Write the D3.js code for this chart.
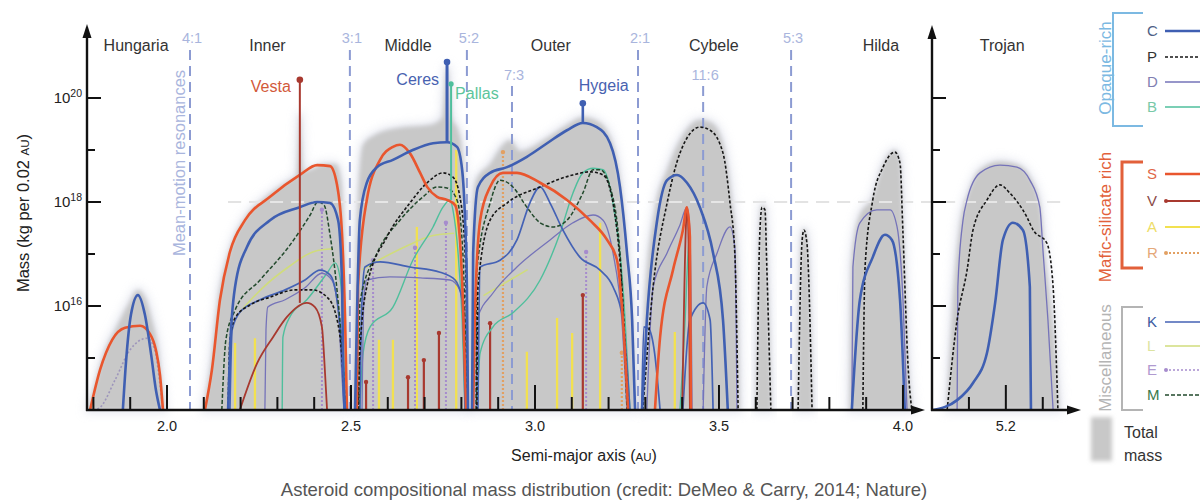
<!DOCTYPE html>
<html><head><meta charset="utf-8">
<script src="https://cdn.jsdelivr.net/npm/d3@7"></script>
<style>
html,body{margin:0;padding:0;background:#fff;}
svg{display:block;font-family:"Liberation Sans",Arial,Helvetica,sans-serif;}
</style></head><body>
<svg id="chart" width="1200" height="503"></svg>
<script>
// Mass distribution of asteroid taxonomic classes vs semi-major axis.
// Each segment: [semi-major axis (AU), log10 mass (kg per 0.02 AU)].

const regionNames   = ['Hungaria','Inner','Middle','Outer','Cybele','Hilda','Trojan'];
const regionCentres = [1.916, 2.273, 2.655, 3.043, 3.486, 3.940, 5.19];

const resonanceNames = ['4:1','3:1','5:2','7:3','2:1','11:6','5:3'];
const resonanceAU    = [2.0625, 2.497, 2.815, 2.9375, 3.280, 3.457, 3.696];

const mainTicks   = [1.8,1.9,2.0,2.1,2.2,2.3,2.4,2.5,2.6,2.7,2.8,2.9,3.0,3.1,3.2,3.3,3.4,3.5,3.6,3.7,3.8,3.9,4.0];
const mainLabels  = [2.0,2.5,3.0,3.5,4.0];
const trojanTicks = [5.1,5.2,5.3];
const trojanLabels= [5.2];
const yMajor = [16,18,20];
const yMinor = [15,17,19];

// total mass envelope
const totalMass = [
 [[1.785,14],[1.804,14.48],[1.832,15.15],[1.859,15.54],[1.894,16.02],[1.921,16.31],[1.943,16.12],[1.959,15.73],[1.976,15.15],[1.986,14.48],[1.995,14]],
 [[2.098,14],[2.117,14.77],[2.139,16.12],[2.171,17.08],[2.212,17.69],[2.266,18.08],[2.334,18.42],[2.352,18.5],[2.361,19.7],[2.370,18.58],[2.389,18.62],[2.429,18.73],[2.459,18.73],[2.473,18.42],[2.481,17.27],[2.486,15.54],[2.492,14]],
 [[2.505,14],[2.511,16.12],[2.519,18.04],[2.533,19.10],[2.565,19.29],[2.625,19.42],[2.715,19.48],[2.748,19.62],[2.761,20.6],[2.774,19.62],[2.790,19.4],[2.800,19.1],[2.807,18.42],[2.813,16.88],[2.821,14]],
 [[2.823,14],[2.826,17.08],[2.840,18.42],[2.878,18.73],[2.913,19.10],[2.932,19.19],[2.959,18.98],[3.033,19.23],[3.087,19.48],[3.130,19.63],[3.168,19.56],[3.204,19.25],[3.231,18.42],[3.250,17.08],[3.264,15.73],[3.274,14]],
 [[3.288,14],[3.299,16.12],[3.326,17.85],[3.359,18.62],[3.394,19.19],[3.448,19.58],[3.481,19.52],[3.514,19.04],[3.535,18.04],[3.549,16.88],[3.557,14]],
 [[3.600,14],[3.610,17.4],[3.617,17.95],[3.625,17.9],[3.632,16.7],[3.643,14]],
 [[3.712,14],[3.724,17.3],[3.731,17.5],[3.740,17.25],[3.755,14]],
 [[3.855,14],[3.860,16.8],[3.880,17.7],[3.918,18.1],[3.946,18.72],[3.978,19.0],[3.992,18.8],[4.000,17.5],[4.014,14.9],[4.026,14]],
 [[5.040,14],[5.060,16.4],[5.075,17.5],[5.100,18.2],[5.130,18.62],[5.184,18.78],[5.230,18.72],[5.265,18.48],[5.292,17.95],[5.305,17.0],[5.330,15.5],[5.345,14]]
];

const seriesC = [
 [[1.880,14],[1.889,14.96],[1.902,15.83],[1.921,16.21],[1.940,15.83],[1.957,15.06],[1.970,14.38],[1.981,14]],
 [[2.166,14],[2.171,15.10],[2.185,16.37],[2.217,17.13],[2.280,17.65],[2.361,17.90],[2.408,18.0],[2.443,17.98],[2.465,17.65],[2.476,16.37],[2.478,15.10],[2.484,14]],
 [[2.511,14],[2.516,15.73],[2.524,17.65],[2.543,18.37],[2.571,18.67],[2.614,18.81],[2.668,19.0],[2.723,19.13],[2.761,19.15],[2.788,19.06],[2.802,18.62],[2.810,17.65],[2.815,16.37],[2.818,14]],
 [[2.829,14],[2.832,17.02],[2.845,18.29],[2.878,18.56],[2.924,18.67],[2.978,18.87],[3.033,19.13],[3.087,19.38],[3.130,19.52],[3.168,19.44],[3.204,19.13],[3.231,18.29],[3.250,17.02],[3.264,15.73],[3.272,14]],
 [[3.291,14],[3.304,15.73],[3.332,17.65],[3.359,18.42],[3.386,18.52],[3.413,18.37],[3.448,17.90],[3.484,17.02],[3.511,15.73],[3.524,14]],
 [[3.861,14],[3.883,16.12],[3.918,16.94],[3.951,17.37],[3.970,17.27],[3.992,16.12],[4.005,14]],
 [[5.003,14],[5.068,14.19],[5.111,14.52],[5.149,15.10],[5.171,16.06],[5.192,17.27],[5.219,17.60],[5.246,17.46],[5.265,16.37],[5.268,14]]
];

const seriesP = [
 [[2.166,14],[2.171,15.35],[2.185,15.77],[2.226,16.02],[2.280,16.17],[2.348,16.31],[2.394,16.31],[2.435,16.17],[2.459,15.83],[2.476,14.96],[2.484,14]],
 [[2.519,14],[2.524,15.10],[2.543,16.37],[2.598,17.33],[2.660,17.98],[2.707,18.37],[2.750,18.56],[2.777,18.48],[2.796,18.10],[2.810,17.02],[2.818,14]],
 [[2.842,14],[2.845,16.37],[2.878,17.65],[2.924,17.98],[3.014,18.29],[3.103,18.52],[3.149,18.58],[3.185,18.52],[3.212,17.98],[3.236,16.37],[3.253,14]],
 [[3.293,14],[3.321,16.37],[3.359,17.98],[3.394,18.94],[3.448,19.44],[3.476,19.38],[3.511,18.94],[3.530,17.98],[3.543,17.02],[3.552,14]],
 [[3.603,14],[3.611,17.40],[3.617,17.90],[3.625,17.85],[3.630,16.75],[3.641,14]],
 [[3.715,14],[3.726,17.27],[3.731,17.46],[3.739,17.21],[3.753,14]],
 [[3.891,14],[3.897,16.75],[3.918,18.04],[3.946,18.67],[3.978,18.96],[3.992,18.75],[4.000,17.40],[4.014,14.83],[4.024,14]],
 [[5.041,14],[5.068,15.73],[5.095,16.69],[5.111,17.46],[5.149,18.04],[5.184,18.33],[5.211,18.17],[5.257,17.71],[5.274,17.46],[5.311,17.21],[5.328,16.37],[5.341,14]]
];

const seriesD = [
 [[2.266,14],[2.269,15.54],[2.274,15.98],[2.321,16.12],[2.375,16.35],[2.421,16.63],[2.448,16.50],[2.465,15.92],[2.476,14.58],[2.481,14]],
 [[2.530,14],[2.535,16.12],[2.543,16.50],[2.606,16.56],[2.688,16.54],[2.769,16.50],[2.796,16.31],[2.810,15.73],[2.815,14]],
 [[2.840,14],[2.842,15.73],[2.886,16.25],[2.951,16.75],[3.041,17.27],[3.103,17.60],[3.158,17.75],[3.185,17.65],[3.212,17.02],[3.236,15.73],[3.250,14]],
 [[3.304,14],[3.321,16.37],[3.359,17.02],[3.394,17.56],[3.413,17.90],[3.421,17.46],[3.427,14]],
 [[3.457,14],[3.467,16.37],[3.495,17.02],[3.530,17.52],[3.543,17.13],[3.549,14]],
 [[3.861,14],[3.864,16.75],[3.883,17.60],[3.929,17.85],[3.965,17.85],[3.984,17.52],[4.000,16.12],[4.011,14]],
 [[5.068,14],[5.070,16.37],[5.084,17.65],[5.095,18.04],[5.130,18.56],[5.184,18.71],[5.230,18.67],[5.265,18.42],[5.292,17.90],[5.301,17.02],[5.314,15.73],[5.328,14]]
];

const seriesB = [
 [[2.313,14],[2.315,15.40],[2.334,15.79],[2.380,16.12],[2.435,16.63],[2.457,16.83],[2.470,16.56],[2.478,15.73],[2.484,14]],
 [[2.524,14],[2.533,15.10],[2.552,15.60],[2.614,15.98],[2.668,16.88],[2.723,17.52],[2.750,17.90],[2.769,18.04],[2.777,17.85],[2.791,17.02],[2.802,15.73],[2.810,14]],
 [[2.842,14],[2.851,15.10],[2.886,15.60],[2.940,15.87],[3.014,16.50],[3.068,17.40],[3.103,18.17],[3.130,18.56],[3.158,18.65],[3.185,18.62],[3.212,17.98],[3.239,16.37],[3.258,14]],
 [[3.394,14],[3.408,15.73],[3.416,17.02],[3.421,17.40],[3.424,14]]
];

const seriesS = [
 [[1.791,14],[1.818,14.77],[1.851,15.35],[1.886,15.58],[1.927,15.62],[1.954,15.46],[1.970,15.15],[1.981,14.67],[1.989,14]],
 [[2.103,14],[2.122,14.77],[2.144,16.12],[2.171,17.04],[2.212,17.65],[2.280,18.10],[2.361,18.52],[2.408,18.71],[2.443,18.69],[2.462,18.33],[2.476,17.33],[2.484,15.73],[2.489,14]],
 [[2.516,14],[2.519,16.37],[2.543,18.04],[2.579,18.81],[2.614,19.06],[2.633,19.10],[2.660,18.94],[2.688,18.56],[2.707,18.29],[2.734,18.10],[2.761,18.04],[2.783,17.94],[2.796,17.27],[2.804,16.12],[2.813,14]],
 [[2.832,14],[2.837,15.87],[2.851,17.65],[2.878,18.29],[2.913,18.56],[2.951,18.56],[3.014,18.37],[3.087,18.04],[3.149,17.65],[3.196,17.27],[3.223,16.88],[3.239,15.73],[3.253,14]],
 [[3.326,14],[3.340,15.40],[3.375,16.69],[3.402,17.46],[3.413,17.90],[3.421,17.33],[3.424,14]]
];

const seriesV = [
 [[2.198,14],[2.245,14.90],[2.288,15.40],[2.326,15.79],[2.380,16.06],[2.402,15.98],[2.421,15.60],[2.429,14.77],[2.435,14]],
 [[3.400,14],[3.405,16.0],[3.410,17.5],[3.414,17.85],[3.418,17.0],[3.421,14]]
];

const seriesK = [
 [[2.171,14],[2.177,15.54],[2.198,15.88],[2.253,16.12],[2.321,16.31],[2.375,16.50],[2.416,16.69],[2.443,16.60],[2.462,16.12],[2.476,14.96],[2.481,14]],
 [[2.524,14],[2.530,16.12],[2.538,16.75],[2.579,16.85],[2.660,16.75],[2.742,16.65],[2.783,16.50],[2.802,16.12],[2.810,14]],
 [[2.845,14],[2.851,16.75],[2.905,16.88],[2.951,17.27],[2.986,17.98],[3.014,18.29],[3.041,17.98],[3.076,17.46],[3.122,16.94],[3.177,16.69],[3.212,16.37],[3.239,15.73],[3.258,14]],
 [[3.290,14],[3.296,15.6],[3.310,15.55],[3.325,15.1],[3.340,14]],
 [[3.402,14],[3.421,15.73],[3.457,16.06],[3.476,15.73],[3.484,14]]
];

const seriesM = [
 [[2.149,14],[2.160,15.35],[2.185,15.92],[2.253,16.50],[2.334,17.17],[2.389,17.75],[2.410,18.0],[2.427,17.94],[2.443,17.37],[2.462,16.31],[2.478,14.96],[2.486,14]],
 [[2.521,14],[2.524,16.06],[2.571,17.02],[2.633,17.65],[2.696,18.10],[2.734,18.29],[2.761,18.27],[2.788,18.04],[2.804,17.02],[2.815,14]],
 [[2.840,14],[2.842,16.69],[2.878,17.98],[2.905,18.42],[2.940,18.29],[2.978,17.90],[3.014,17.60],[3.049,17.52],[3.087,17.65],[3.130,18.17],[3.158,18.62],[3.177,18.62],[3.204,18.29],[3.231,17.02],[3.250,14]]
];

const seriesE = [
 [[1.800,14],[1.818,14.05],[1.859,14.58],[1.899,15.15],[1.946,15.38],[1.967,15.15],[1.981,14.48],[1.989,14]]
];

const seriesL = [
 [[2.200,15.9],[2.260,16.35],[2.330,16.75],[2.400,17.05],[2.450,17.1]],
 [[2.530,16.7],[2.580,16.9],[2.650,17.15],[2.720,17.35],[2.780,17.4]],
 [[2.860,16.2],[2.920,16.45],[2.980,16.7]]
];

// single-bin spikes: [a, log10 mass at top]
const spikesA = [[2.185,15.29],[2.239,15.38],[2.576,15.35],[2.614,15.35],[2.679,17.52],[2.786,19.0],[2.978,15.12],[3.060,15.77],[3.101,15.48],[3.177,17.6],[3.380,15.5]];
const spikesV = [[2.541,14.54],[2.655,14.63],[2.698,14.96],[2.739,15.48],[2.878,15.67],[3.130,16.21]];
const spikesE = [[2.421,17.85],[2.560,16.88],[2.674,17.12],[2.758,17.6],[3.139,17.04]];
const spikesR = [[2.913,18.96],[3.236,15.10]];

// the four largest bodies
const bodyNames = ['Vesta','Ceres','Pallas','Hygeia'];
const bodyClass = ['V','C','B','C'];
const bodyAU    = [2.361, 2.761, 2.772, 3.130];
const bodyBase  = [16.06, 19.15, 18.04, 19.52];
const bodyTop   = [20.35, 20.69, 20.27, 19.90];

// ---------------------------------------------------------------
const svg = d3.select('#chart');
const xMain = d3.scaleLinear().domain([1.7826, 4.03]).range([87, 914]);
const xTroj = d3.scaleLinear().domain([5.0, 5.39]).range([932, 1076]);
const y = d3.scaleLog().domain([1e14, Math.pow(10, 21.4)]).range([410, 410 - 7.4 * 52]);
const xOf = a => a > 4.5 ? xTroj(a) : xMain(a);
const yOf = v => y(Math.pow(10, v));
const clipFor = seg => seg[0][0] > 4.5 ? 'url(#clipT)' : 'url(#clipM)';

const style = {
  C:{color:'#3f5fb2', width:2.6},
  P:{color:'#161616', width:1.6, dash:'3,2'},
  D:{color:'#7573b9', width:1.3},
  B:{color:'#4fbf9c', width:1.4},
  S:{color:'#e9562e', width:2.6},
  V:{color:'#a8392f', width:1.8},
  A:{color:'#f2e150', width:1.9},
  R:{color:'#e2a062', width:1.8, dash:'2,2'},
  K:{color:'#4462b5', width:1.7},
  L:{color:'#d0dc7c', width:1.6},
  E:{color:'#a68ccd', width:1.6, dash:'2,2'},
  M:{color:'#22492c', width:1.5, dash:'4,2'}
};

const defs = svg.append('defs');
defs.append('clipPath').attr('id','clipM').append('rect').attr('x',87).attr('y',0).attr('width',827).attr('height',410);
defs.append('clipPath').attr('id','clipT').append('rect').attr('x',932).attr('y',0).attr('width',144).attr('height',410);
const f1 = defs.append('filter').attr('id','soft').attr('x','-20%').attr('y','-20%').attr('width','140%').attr('height','140%');
f1.append('feGaussianBlur').attr('stdDeviation',2.2);
const f2 = defs.append('filter').attr('id','halo').attr('x','-30%').attr('y','-30%').attr('width','160%').attr('height','160%');
f2.append('feGaussianBlur').attr('stdDeviation',5);

const line = d3.line().x(d => xOf(d[0])).y(d => yOf(d[1])).curve(d3.curveMonotoneX);
const area = d3.area().x(d => xOf(d[0])).y0(410).y1(d => yOf(d[1])).curve(d3.curveMonotoneX);

// reference level 10^18 (under the total-mass shading)
const y18 = y(1e18);
svg.append('line').attr('x1', xMain(2.166)).attr('x2', xTroj(5.35)).attr('y1', y18).attr('y2', y18)
  .attr('stroke','#c2c2c2').attr('stroke-width',2).attr('stroke-dasharray','13,8');

// total mass shading
const gTot = svg.append('g');
gTot.selectAll('path.halo').data(totalMass).join('path').attr('class','halo')
  .attr('d', area).attr('fill','#cfd2e2').attr('stroke','#cfd2e2').attr('stroke-width',6)
  .attr('opacity',0.55).attr('filter','url(#halo)');
gTot.selectAll('path.fill').data(totalMass).join('path').attr('class','fill')
  .attr('d', area).attr('fill','#c8c8c8').attr('filter','url(#soft)').attr('clip-path', clipFor);

// the reference dashes show pale over the shading
svg.append('line').attr('x1', xMain(2.166)).attr('x2', xTroj(5.35)).attr('y1', y18).attr('y2', y18)
  .attr('stroke','#ffffff').attr('stroke-opacity',0.55).attr('stroke-width',2).attr('stroke-dasharray','13,8');

// mean-motion resonances
const gRes = svg.append('g');
resonanceNames.forEach((name, i) => {
  const low = (name === '7:3' || name === '11:6');
  const xr = xMain(resonanceAU[i]);
  gRes.append('line').attr('x1', xr).attr('x2', xr).attr('y1', low ? 86 : 50).attr('y2', 410)
    .attr('stroke','#8c9bd2').attr('stroke-width',2).attr('stroke-dasharray','10,6');
  gRes.append('text').attr('x', xr + 2).attr('y', low ? 80 : 43).attr('text-anchor','middle')
    .attr('font-size',14.5).attr('fill','#a9b5dd').text(name);
});
gRes.append('text').attr('transform', `translate(${xMain(resonanceAU[0]) - 5},163) rotate(-90)`)
  .attr('text-anchor','middle').attr('font-size',16.5).attr('fill','#a9b5dd').text('Mean-motion resonances');

// single-bin spikes
const gSp = svg.append('g').attr('clip-path','url(#clipM)');
function spikes(list, cls, dot) {
  const s = style[cls];
  list.forEach(([a, top]) => {
    gSp.append('line').attr('x1', xOf(a)).attr('x2', xOf(a)).attr('y1', 410).attr('y2', yOf(top))
      .attr('stroke', s.color).attr('stroke-width', s.width + 0.4).attr('stroke-dasharray', s.dash || null);
    if (dot) gSp.append('circle').attr('cx', xOf(a)).attr('cy', yOf(top)).attr('r', 2.2).attr('fill', s.color);
  });
}
spikes(spikesA, 'A', false);
spikes(spikesE, 'E', true);
spikes(spikesR, 'R', true);
spikes(spikesV, 'V', true);

// class curves
const gCurves = svg.append('g');
function curves(list, cls, colorOverride) {
  const s = style[cls];
  gCurves.append('g').selectAll('path').data(list).join('path')
    .attr('d', line).attr('fill','none').attr('clip-path', clipFor)
    .attr('stroke', colorOverride || s.color).attr('stroke-width', s.width)
    .attr('stroke-dasharray', s.dash || null).attr('stroke-linejoin','round');
}
curves(seriesL, 'L');
curves(seriesE, 'E', '#9d95bb');
curves(seriesB, 'B');
curves(seriesD, 'D');
curves(seriesK, 'K');
curves(seriesM, 'M');
curves(seriesP, 'P');
curves(seriesV, 'V');
curves(seriesS, 'S');
curves(seriesC, 'C');

// largest bodies
const bodyLabelColor = {Vesta:'#d2593a', Ceres:'#4862b0', Pallas:'#5cc59b', Hygeia:'#4862b0'};
const gBody = svg.append('g');
bodyNames.forEach((name, i) => {
  const s = style[bodyClass[i]];
  const bx = xMain(bodyAU[i]), by = yOf(bodyTop[i]);
  gBody.append('line').attr('x1', bx).attr('x2', bx).attr('y1', yOf(bodyBase[i])).attr('y2', by)
    .attr('stroke', s.color).attr('stroke-width', name === 'Ceres' ? 3 : (name === 'Hygeia' ? 2.6 : 2));
  gBody.append('circle').attr('cx', bx).attr('cy', by).attr('r', name === 'Pallas' ? 2.6 : 3.3).attr('fill', s.color);
  const t = gBody.append('text').attr('font-size',16).attr('fill', bodyLabelColor[name]).text(name);
  if (name === 'Vesta') t.attr('x', bx - 9).attr('y', by + 12).attr('text-anchor','end');
  if (name === 'Ceres') t.attr('x', bx - 8).attr('y', by + 23).attr('text-anchor','end');
  if (name === 'Pallas') t.attr('x', bx + 4).attr('y', by + 15).attr('text-anchor','start');
  if (name === 'Hygeia') t.attr('x', bx - 4).attr('y', by - 12).attr('text-anchor','start');
});

// region names
svg.append('g').selectAll('text').data(regionNames).join('text')
  .attr('x', (d, i) => xOf(regionCentres[i])).attr('y', 51).attr('text-anchor','middle')
  .attr('font-size',16).attr('fill','#333').text(d => d);

// axes
const gAx = svg.append('g').attr('stroke','#111').attr('fill','#111');
function arrowAxis(x0, y0, x1, y1) {
  gAx.append('line').attr('x1', x0).attr('y1', y0).attr('x2', x1).attr('y2', y1).attr('stroke-width', 2.4);
  if (x0 === x1) {
    gAx.append('path').attr('stroke','none').attr('d', `M${x1},${y1 - 6} L${x1 - 4.5},${y1 + 8} L${x1 + 4.5},${y1 + 8} Z`);
  } else {
    gAx.append('path').attr('stroke','none').attr('d', `M${x1 + 7},${y1} L${x1 - 7},${y1 - 4.5} L${x1 - 7},${y1 + 4.5} Z`);
  }
}
arrowAxis(87, 411, 87, 30);
arrowAxis(86, 410, 918, 410);
arrowAxis(932, 411, 932, 31);
arrowAxis(931, 410, 1074, 410);

// y ticks
[87, 932].forEach(ax => {
  yMajor.forEach(v => gAx.append('line').attr('x1', ax).attr('x2', ax + 14).attr('y1', yOf(v)).attr('y2', yOf(v)).attr('stroke-width',2));
  yMinor.forEach(v => gAx.append('line').attr('x1', ax).attr('x2', ax + 8).attr('y1', yOf(v)).attr('y2', yOf(v)).attr('stroke-width',2));
});
const gYl = svg.append('g').attr('font-size',15).attr('fill','#222');
yMajor.forEach(v => {
  const t = gYl.append('text').attr('x', 82).attr('y', yOf(v) + 5).attr('text-anchor','end');
  t.append('tspan').text('10');
  t.append('tspan').attr('dy', -6).attr('font-size', 10.5).text(v);
});

// x ticks
mainTicks.forEach(a => {
  const tall = mainLabels.some(m => Math.abs(m - a) < 1e-6);
  gAx.append('line').attr('x1', xMain(a)).attr('x2', xMain(a)).attr('y1', 410).attr('y2', tall ? 385 : 397).attr('stroke-width', 2);
});
trojanTicks.forEach(a => {
  const tall = trojanLabels.some(m => Math.abs(m - a) < 1e-6);
  gAx.append('line').attr('x1', xTroj(a)).attr('x2', xTroj(a)).attr('y1', 410).attr('y2', tall ? 385 : 397).attr('stroke-width', 2);
});
const gXl = svg.append('g').attr('font-size',14.5).attr('fill','#222').attr('text-anchor','middle');
mainLabels.forEach(a => gXl.append('text').attr('x', xMain(a)).attr('y', 431).text(a.toFixed(1)));
trojanLabels.forEach(a => gXl.append('text').attr('x', xTroj(a)).attr('y', 431).text(a.toFixed(1)));

// axis titles
const xt = svg.append('text').attr('x', 584).attr('y', 461).attr('text-anchor','middle').attr('font-size',16).attr('fill','#222');
xt.append('tspan').text('Semi-major axis (');
xt.append('tspan').attr('font-size',11.5).text('AU');
xt.append('tspan').text(')');
const yt = svg.append('text').attr('transform','translate(29,213) rotate(-90)').attr('text-anchor','middle').attr('font-size',16.5).attr('fill','#222');
yt.append('tspan').text('Mass (kg per 0.02 ');
yt.append('tspan').attr('font-size',11.5).text('AU');
yt.append('tspan').text(')');

svg.append('text').attr('x', 604).attr('y', 496).attr('text-anchor','middle').attr('font-size',18.5).attr('fill','#555')
  .text('Asteroid compositional mass distribution (credit: DeMeo & Carry, 2014; Nature)');

// legend
const legendTitles  = ['Opaque-rich','Mafic-silicate rich','Miscellaneous'];
const legendClasses = [['C','P','D','B'],['S','V','A','R'],['K','L','E','M']];
const legendTitleColor = ['#7cb9e2','#e2603a','#b4b4b4'];
const letterColor = {C:'#4e5f86',P:'#333',D:'#7f7fb2',B:'#78c9a8',S:'#e06848',V:'#8a4a48',A:'#eedd68',R:'#e5a87a',K:'#3c5aa0',L:'#dce3a0',E:'#b09ad0',M:'#3b7a4c'};
const rowY = [[31,57,82,107],[174,201,227,253],[322,346,370,395]];
const bracket = [[1113,13,126,2],[1122,162,268,3],[1122,307,410,2]];
const titleY = [68,217,358];
const gLeg = svg.append('g');
legendTitles.forEach((title, g) => {
  const [bx, b0, b1, bw] = bracket[g];
  gLeg.append('path').attr('d', `M1143,${b0} L${bx},${b0} L${bx},${b1} L1143,${b1}`)
    .attr('fill','none').attr('stroke', legendTitleColor[g]).attr('stroke-width', bw);
  gLeg.append('text').attr('transform', `translate(1111,${titleY[g]}) rotate(-90)`).attr('text-anchor','middle')
    .attr('font-size',17).attr('fill', legendTitleColor[g]).text(title);
  legendClasses[g].forEach((cls, r) => {
    const ly = rowY[g][r], s = style[cls];
    gLeg.append('text').attr('x', 1147).attr('y', ly + 5).attr('font-size',15).attr('fill', letterColor[cls]).text(cls);
    gLeg.append('line').attr('x1', 1165).attr('x2', 1200).attr('y1', ly).attr('y2', ly)
      .attr('stroke', s.color).attr('stroke-width', s.width).attr('stroke-dasharray', s.dash || null);
    if (cls === 'V' || cls === 'R' || cls === 'E') gLeg.append('circle').attr('cx', 1166).attr('cy', ly).attr('r', 2).attr('fill', s.color);
  });
});
gLeg.append('rect').attr('x',1091).attr('y',417).attr('width',21).attr('height',44).attr('fill','#c8c8c8').attr('filter','url(#soft)');
gLeg.append('text').attr('x',1124).attr('y',438).attr('font-size',16).attr('fill','#333').text('Total');
gLeg.append('text').attr('x',1124).attr('y',461).attr('font-size',16).attr('fill','#333').text('mass');
</script>
</body></html>
